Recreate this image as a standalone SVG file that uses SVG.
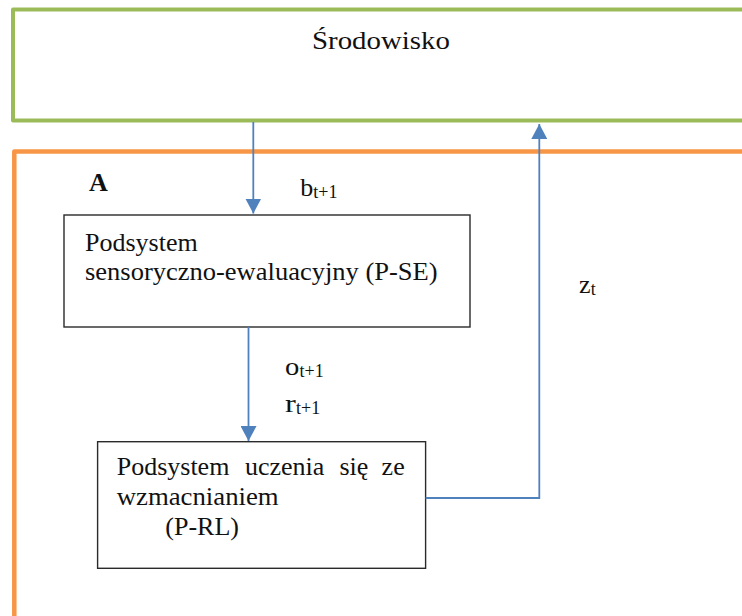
<svg xmlns="http://www.w3.org/2000/svg" width="742" height="616" viewBox="0 0 742 616">
  <style>
    .t { font-size: 26px; fill: #111; }
    .sub { font-size: 18px; fill: #111; }
    .bold { font-weight: bold; }
    .box { fill: #fff; stroke: #2a2a2a; stroke-width: 1.4; }
    .wire { fill: none; stroke: #4F81BD; stroke-width: 1.8; }
  </style>
  <defs>
    <marker id="arrow" markerUnits="userSpaceOnUse" markerWidth="16" markerHeight="16" refX="15" refY="8" orient="auto">
      <path d="M0,0 L15,8 L0,16 Z" fill="#4F81BD"/>
    </marker>
  </defs>

  <rect width="742" height="616" fill="#fff"/>

  <g font-family="Liberation Serif">

  <!-- environment frame -->
  <g id="environment">
    <rect x="13" y="9.5" width="760" height="111" fill="none" stroke="#9BBB59" stroke-width="4" stroke-linejoin="round"/>
    <text class="t" transform="translate(312 48.5) scale(1.11 1)">Środowisko</text>
  </g>

  <!-- agent frame -->
  <g id="agent">
    <rect x="14.3" y="151.5" width="760" height="500" fill="none" stroke="#F79646" stroke-width="4.5" stroke-linejoin="round"/>
    <text class="t bold" x="89" y="190.7">A</text>
  </g>

  <!-- sensory-evaluation subsystem -->
  <g id="p-se">
    <rect class="box" x="64" y="215" width="406" height="112"/>
    <text class="t" x="85" y="251">Podsystem</text>
    <text class="t" transform="translate(85 280) scale(1.02 1)">sensoryczno-ewaluacyjny (P-SE)</text>
  </g>

  <!-- reinforcement learning subsystem -->
  <g id="p-rl">
    <rect class="box" x="97.6" y="441.7" width="328" height="126.6"/>
    <text class="t" x="116.7" y="475">Podsystem</text>
    <text class="t" x="245" y="475">uczenia</text>
    <text class="t" x="339.5" y="475">się</text>
    <text class="t" x="381.6" y="475">ze</text>
    <text class="t" transform="translate(116.7 505) scale(1.03 1)">wzmacnianiem</text>
    <text class="t" x="165.3" y="535">(P-RL)</text>
  </g>

  <!-- signal connectors -->
  <g id="connectors">
    <line class="wire" x1="253.3" y1="122" x2="253.3" y2="213.5" marker-end="url(#arrow)"/>
    <line class="wire" x1="248.5" y1="327" x2="248.5" y2="441" marker-end="url(#arrow)"/>
    <polyline class="wire" points="425.6,498 539.3,498 539.3,124" marker-end="url(#arrow)"/>
  </g>

  <!-- connector labels -->
  <g id="labels">
    <text class="t" x="300.2" y="196">b</text>
    <text class="sub" x="313.3" y="198">t+1</text>
    <text class="t" transform="translate(285 375) scale(1.1 1)">o</text>
    <text class="sub" x="299.5" y="377">t+1</text>
    <text class="t" transform="translate(285 411.7) scale(1.25 1)">r</text>
    <text class="sub" x="296" y="413.5">t+1</text>
    <text class="t" x="579" y="293.3">z</text>
    <text class="sub" x="590.7" y="295">t</text>
  </g>

  </g>
</svg>
